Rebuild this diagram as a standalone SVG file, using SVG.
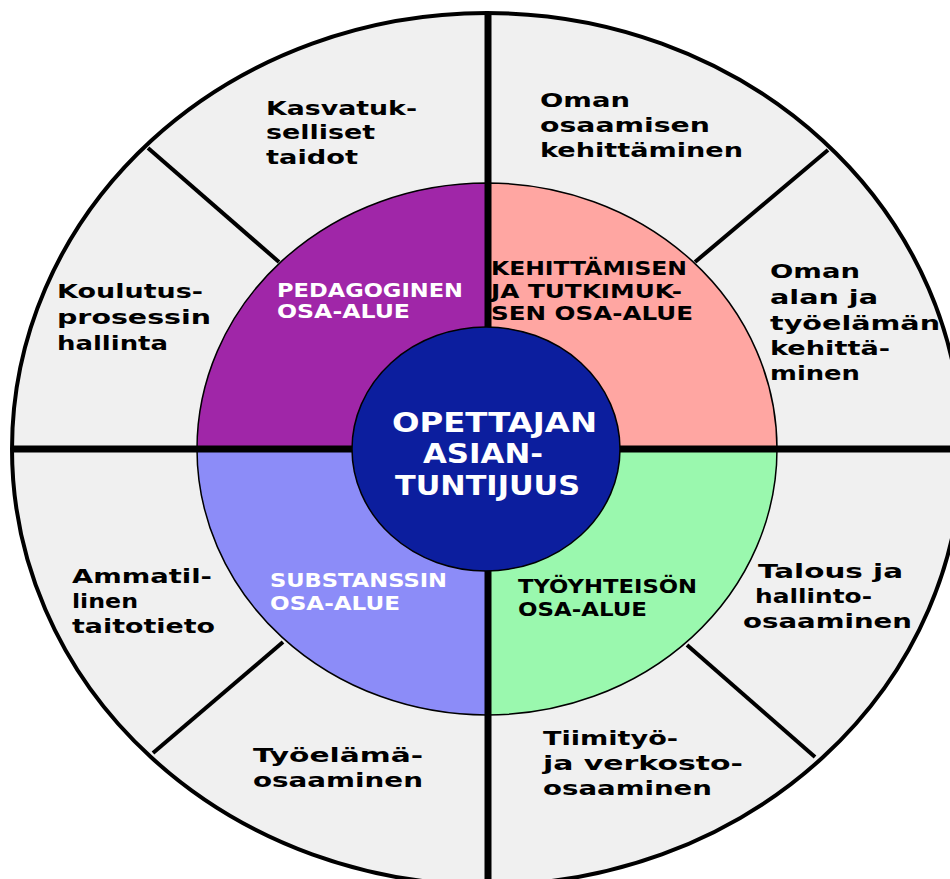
<svg xmlns="http://www.w3.org/2000/svg" width="950" height="879" viewBox="0 0 950 879">
<style>
  .lbl { font-family: "DejaVu Sans", "Liberation Sans", sans-serif; font-weight: bold; font-size: 20px; fill: #000; }
  .in { font-family: "DejaVu Sans", "Liberation Sans", sans-serif; font-weight: bold; font-size: 19px; }
  .white { fill: #fff; }
  .black { fill: #000; }
  .title { font-family: "DejaVu Sans", "Liberation Sans", sans-serif; font-weight: bold; font-size: 26px; fill: #fff; }
  .div { stroke: #000; stroke-width: 4; stroke-linecap: butt; }
  .axis { stroke: #000; stroke-width: 7; }
  .edge { stroke: #000; stroke-width: 1.5; }
</style>
<rect x="0" y="0" width="950" height="879" fill="#fff"/>

<g id="outer-ring">
  <ellipse cx="487" cy="449" rx="475" ry="436" fill="#f0f0f0" stroke="#000" stroke-width="4"/>
</g>

<g id="pedagoginen">
  <path d="M487,449 L197,449 A290,266 0 0,1 487,183 Z" fill="#a026a8" class="edge"/>
  <text class="in white" x="277" y="297" textLength="186" lengthAdjust="spacingAndGlyphs">PEDAGOGINEN</text>
  <text class="in white" x="277" y="318" textLength="133" lengthAdjust="spacingAndGlyphs">OSA-ALUE</text>
</g>
<g id="kehittamisen">
  <path d="M487,449 L487,183 A290,266 0 0,1 777,449 Z" fill="#ffa6a2" class="edge"/>
  <text class="in black" x="491" y="275" textLength="196" lengthAdjust="spacingAndGlyphs">KEHITTÄMISEN</text>
  <text class="in black" x="491" y="298" textLength="191" lengthAdjust="spacingAndGlyphs">JA TUTKIMUK-</text>
  <text class="in black" x="491" y="320" textLength="202" lengthAdjust="spacingAndGlyphs">SEN OSA-ALUE</text>
</g>
<g id="tyoyhteison">
  <path d="M487,449 L777,449 A290,266 0 0,1 487,715 Z" fill="#9af8ae" class="edge"/>
  <text class="in black" x="518" y="593" textLength="179" lengthAdjust="spacingAndGlyphs">TYÖYHTEISÖN</text>
  <text class="in black" x="518" y="616" textLength="129" lengthAdjust="spacingAndGlyphs">OSA-ALUE</text>
</g>
<g id="substanssin">
  <path d="M487,449 L487,715 A290,266 0 0,1 197,449 Z" fill="#8c8cf8" class="edge"/>
  <text class="in white" x="270" y="587" textLength="177" lengthAdjust="spacingAndGlyphs">SUBSTANSSIN</text>
  <text class="in white" x="270" y="610" textLength="130" lengthAdjust="spacingAndGlyphs">OSA-ALUE</text>
</g>

<g id="connectors">
  <line class="axis" x1="488" y1="12" x2="488" y2="328"/>
  <line class="axis" x1="488" y1="570" x2="488" y2="879"/>
  <line class="axis" x1="13" y1="449" x2="353" y2="449" stroke-width="6"/>
  <line class="axis" x1="619" y1="449" x2="950" y2="449" stroke-width="6"/>
  <line class="div" x1="148" y1="148" x2="279" y2="262"/>
  <line class="div" x1="828" y1="150" x2="695" y2="262"/>
  <line class="div" x1="283" y1="642" x2="153" y2="753"/>
  <line class="div" x1="687" y1="645" x2="815" y2="757"/>
</g>

<g id="center">
  <ellipse cx="486" cy="449" rx="134" ry="122" fill="#0c1e9e" stroke="#000" stroke-width="1.5"/>
  <text class="title" x="392" y="432" textLength="205" lengthAdjust="spacingAndGlyphs">OPETTAJAN</text>
  <text class="title" x="423" y="463" textLength="120" lengthAdjust="spacingAndGlyphs">ASIAN-</text>
  <text class="title" x="395" y="495" textLength="185" lengthAdjust="spacingAndGlyphs">TUNTIJUUS</text>
</g>

<g id="kasvatukselliset">
  <text class="lbl" x="266" y="115" textLength="151" lengthAdjust="spacingAndGlyphs">Kasvatuk-</text>
  <text class="lbl" x="266" y="139" textLength="109" lengthAdjust="spacingAndGlyphs">selliset</text>
  <text class="lbl" x="266" y="164" textLength="92" lengthAdjust="spacingAndGlyphs">taidot</text>
</g>
<g id="oman-osaamisen">
  <text class="lbl" x="540" y="107" textLength="90" lengthAdjust="spacingAndGlyphs">Oman</text>
  <text class="lbl" x="540" y="132" textLength="170" lengthAdjust="spacingAndGlyphs">osaamisen</text>
  <text class="lbl" x="540" y="157" textLength="203" lengthAdjust="spacingAndGlyphs">kehittäminen</text>
</g>
<g id="oman-alan">
  <text class="lbl" x="770" y="278" textLength="90" lengthAdjust="spacingAndGlyphs">Oman</text>
  <text class="lbl" x="770" y="304" textLength="108" lengthAdjust="spacingAndGlyphs">alan ja</text>
  <text class="lbl" x="770" y="330" textLength="170" lengthAdjust="spacingAndGlyphs">työelämän</text>
  <text class="lbl" x="770" y="355" textLength="120" lengthAdjust="spacingAndGlyphs">kehittä-</text>
  <text class="lbl" x="770" y="380" textLength="90" lengthAdjust="spacingAndGlyphs">minen</text>
</g>
<g id="koulutusprosessin">
  <text class="lbl" x="57" y="298" textLength="146" lengthAdjust="spacingAndGlyphs">Koulutus-</text>
  <text class="lbl" x="57" y="324" textLength="154" lengthAdjust="spacingAndGlyphs">prosessin</text>
  <text class="lbl" x="57" y="350" textLength="111" lengthAdjust="spacingAndGlyphs">hallinta</text>
</g>
<g id="ammatillinen">
  <text class="lbl" x="72" y="583" textLength="140" lengthAdjust="spacingAndGlyphs">Ammatil-</text>
  <text class="lbl" x="72" y="608" textLength="66" lengthAdjust="spacingAndGlyphs">linen</text>
  <text class="lbl" x="72" y="633" textLength="143" lengthAdjust="spacingAndGlyphs">taitotieto</text>
</g>
<g id="tyoelama">
  <text class="lbl" x="253" y="762" textLength="170" lengthAdjust="spacingAndGlyphs">Työelämä-</text>
  <text class="lbl" x="253" y="787" textLength="170" lengthAdjust="spacingAndGlyphs">osaaminen</text>
</g>
<g id="tiimityo">
  <text class="lbl" x="543" y="745" textLength="135" lengthAdjust="spacingAndGlyphs">Tiimityö-</text>
  <text class="lbl" x="543" y="770" textLength="200" lengthAdjust="spacingAndGlyphs">ja verkosto-</text>
  <text class="lbl" x="543" y="795" textLength="169" lengthAdjust="spacingAndGlyphs">osaaminen</text>
</g>
<g id="talous">
  <text class="lbl" x="758" y="578" textLength="145" lengthAdjust="spacingAndGlyphs">Talous ja</text>
  <text class="lbl" x="755" y="603" textLength="117" lengthAdjust="spacingAndGlyphs">hallinto-</text>
  <text class="lbl" x="743" y="628" textLength="169" lengthAdjust="spacingAndGlyphs">osaaminen</text>
</g>
</svg>
